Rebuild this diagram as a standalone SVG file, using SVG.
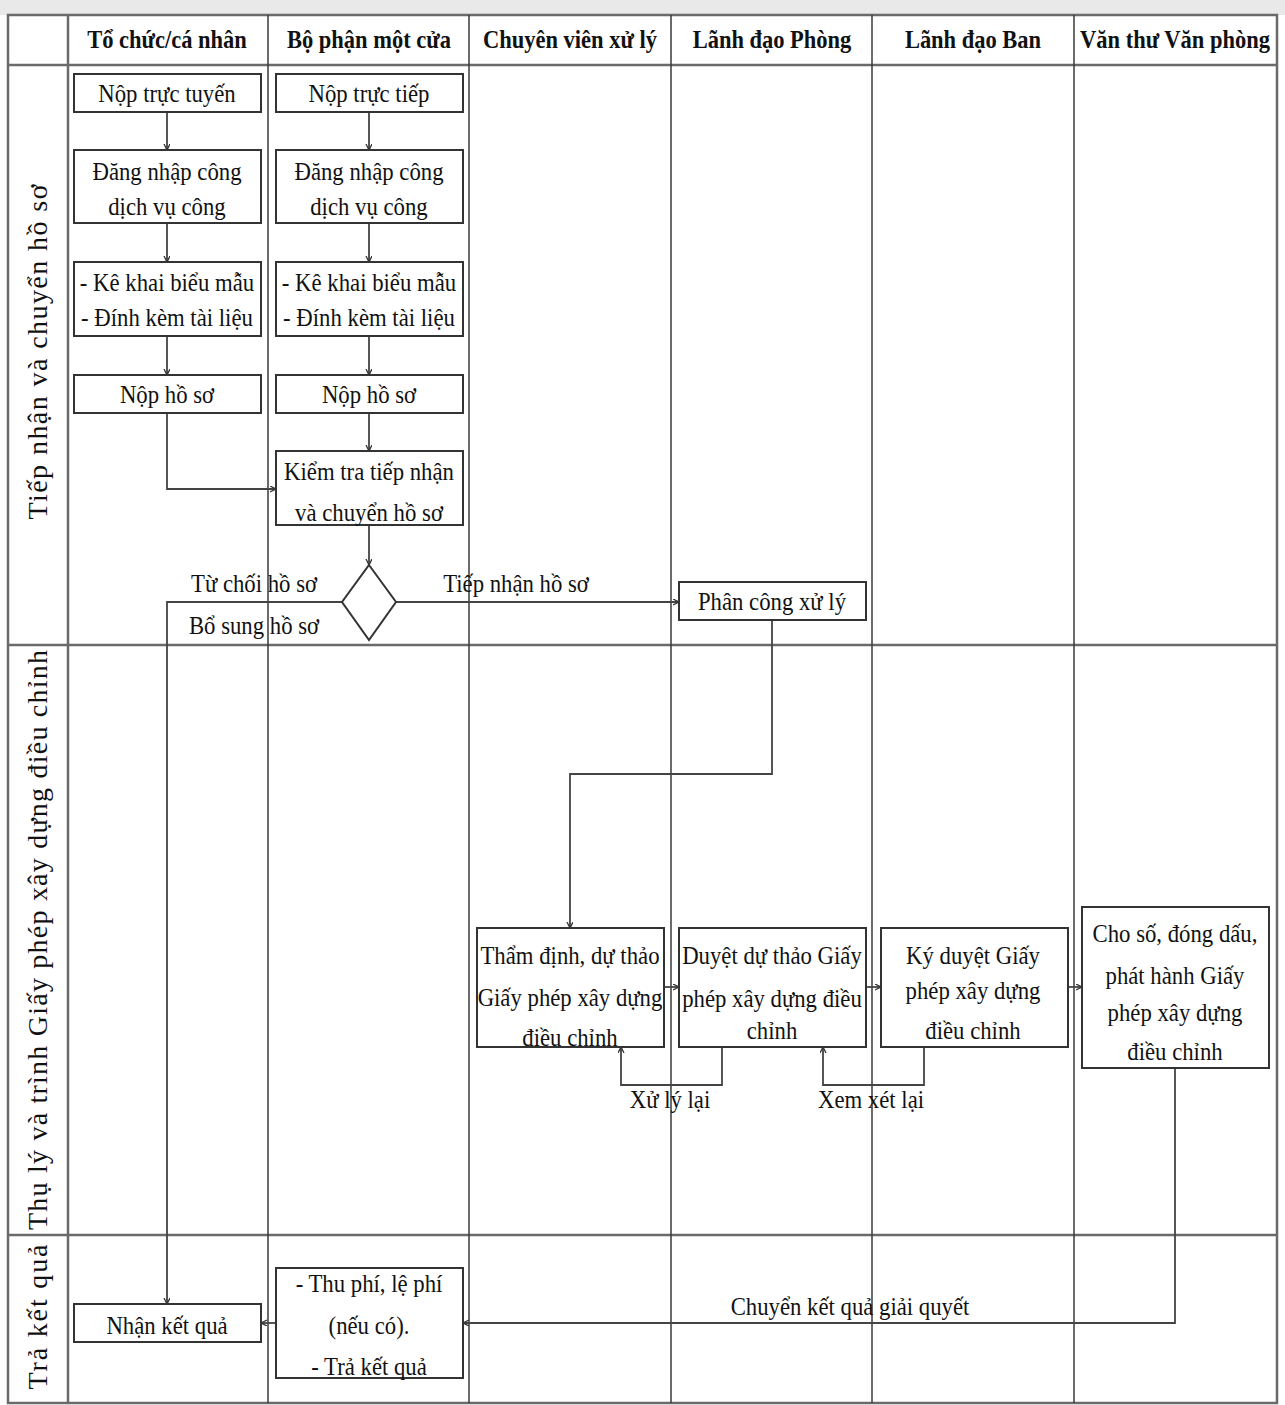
<svg xmlns="http://www.w3.org/2000/svg" width="1285" height="1405" viewBox="0 0 1285 1405">
<style>
.grid{stroke:#6a6a6a;stroke-width:2.5;fill:none}
.col{stroke:#3a3a3a;stroke-width:1.5;fill:none}
.box{fill:#fff;stroke:#333;stroke-width:2}
.con{fill:none;stroke:#444;stroke-width:1.8}
.h{font-family:"Liberation Serif",serif;font-weight:bold;font-size:25px;fill:#111;text-anchor:middle;transform-box:fill-box;transform-origin:center;transform:scaleX(0.9)}
.t{font-family:"Liberation Serif",serif;font-size:25px;fill:#111;text-anchor:middle;transform-box:fill-box;transform-origin:center;transform:scaleX(0.91)}
.r{font-family:"Liberation Serif",serif;font-size:28px;fill:#111;text-anchor:middle}
</style>
<defs>
<marker id="ar" markerWidth="8" markerHeight="8" refX="6" refY="3" orient="auto" markerUnits="userSpaceOnUse">
<path d="M0,0 L6,3 L0,6" fill="none" stroke="#333" stroke-width="1.3"/>
</marker>
</defs>
<rect x="0" y="0" width="1285" height="1405" fill="#fff"/>
<rect x="0" y="0" width="1285" height="15" fill="#e9e9e9"/>
<g id="grid">
<rect x="8" y="15" width="1269" height="1388" class="grid"/>
<line x1="8" y1="65" x2="1277" y2="65" class="grid" stroke-width="3.5"/>
<line x1="8" y1="645" x2="1277" y2="645" class="grid"/>
<line x1="8" y1="1235" x2="1277" y2="1235" class="grid" stroke-width="3.5"/>
<line x1="68" y1="15" x2="68" y2="1403" class="grid"/>
<line x1="268" y1="15" x2="268" y2="1403" class="col"/>
<line x1="469" y1="15" x2="469" y2="1403" class="col"/>
<line x1="671" y1="15" x2="671" y2="1403" class="col"/>
<line x1="872" y1="15" x2="872" y2="1403" class="col"/>
<line x1="1074" y1="15" x2="1074" y2="1403" class="col"/>
</g>
<g id="headers">
<text class="h" x="167" y="48">Tổ chức/cá nhân</text>
<text class="h" x="369" y="48">Bộ phận một cửa</text>
<text class="h" x="570" y="48">Chuyên viên xử lý</text>
<text class="h" x="772" y="48">Lãnh đạo Phòng</text>
<text class="h" x="973" y="48">Lãnh đạo Ban</text>
<text class="h" x="1175" y="48">Văn thư Văn phòng</text>
</g>
<g id="lanes">
<text class="r" transform="translate(47,352) rotate(-90)" textLength="335" lengthAdjust="spacing">Tiếp nhận và chuyển hồ sơ</text>
<text class="r" transform="translate(47,940) rotate(-90)" textLength="580" lengthAdjust="spacing">Thụ lý và trình Giấy phép xây dựng điều chỉnh</text>
<text class="r" transform="translate(47,1317) rotate(-90)" textLength="145" lengthAdjust="spacing">Trả kết quả</text>
</g>
<g id="connectors">
<path class="con" d="M167,112 V150" marker-end="url(#ar)"/>
<path class="con" d="M167,223 V262" marker-end="url(#ar)"/>
<path class="con" d="M167,336 V375" marker-end="url(#ar)"/>
<path class="con" d="M369,112 V150" marker-end="url(#ar)"/>
<path class="con" d="M369,223 V262" marker-end="url(#ar)"/>
<path class="con" d="M369,336 V375" marker-end="url(#ar)"/>
<path class="con" d="M369,413 V451" marker-end="url(#ar)"/>
<path class="con" d="M167,413 V489 H276" marker-end="url(#ar)"/>
<path class="con" d="M369,525 V565" marker-end="url(#ar)"/>
<path class="con" d="M342,602 H167 V1304" marker-end="url(#ar)"/>
<path class="con" d="M396,602 H679" marker-end="url(#ar)"/>
<path class="con" d="M772,620 V774 H570 V928" marker-end="url(#ar)"/>
<path class="con" d="M664,987 H679" marker-end="url(#ar)"/>
<path class="con" d="M866,987 H881" marker-end="url(#ar)"/>
<path class="con" d="M1068,987 H1082" marker-end="url(#ar)"/>
<path class="con" d="M722,1047 V1085 H621 V1047" marker-end="url(#ar)"/>
<path class="con" d="M924,1047 V1085 H823 V1047" marker-end="url(#ar)"/>
<path class="con" d="M1175,1068 V1323 H463" marker-end="url(#ar)"/>
<path class="con" d="M276,1323 H261" marker-end="url(#ar)"/>
<text class="t" x="254" y="592">Từ chối hồ sơ</text>
<text class="t" x="254" y="634">Bổ sung hồ sơ</text>
<text class="t" x="516" y="592">Tiếp nhận hồ sơ</text>
<text class="t" x="670" y="1108">Xử lý lại</text>
<text class="t" x="871" y="1108">Xem xét lại</text>
<text class="t" x="850" y="1315">Chuyển kết quả giải quyết</text>
</g>
<g id="n-noptructuyen"><rect class="box" x="74" y="74" width="187" height="38"/><text class="t" x="167" y="102">Nộp trực tuyến</text></g>
<g id="n-noptructiep"><rect class="box" x="276" y="74" width="187" height="38"/><text class="t" x="369" y="102">Nộp trực tiếp</text></g>
<g id="n-dangnhap1"><rect class="box" x="74" y="150" width="187" height="73"/><text class="t" x="167" y="180">Đăng nhập công</text><text class="t" x="167" y="215">dịch vụ công</text></g>
<g id="n-dangnhap2"><rect class="box" x="276" y="150" width="187" height="73"/><text class="t" x="369" y="180">Đăng nhập công</text><text class="t" x="369" y="215">dịch vụ công</text></g>
<g id="n-kekhai1"><rect class="box" x="74" y="262" width="187" height="74"/><text class="t" x="167" y="291">- Kê khai biểu mẫu</text><text class="t" x="167" y="326">- Đính kèm tài liệu</text></g>
<g id="n-kekhai2"><rect class="box" x="276" y="262" width="187" height="74"/><text class="t" x="369" y="291">- Kê khai biểu mẫu</text><text class="t" x="369" y="326">- Đính kèm tài liệu</text></g>
<g id="n-nophoso1"><rect class="box" x="74" y="375" width="187" height="38"/><text class="t" x="167" y="403">Nộp hồ sơ</text></g>
<g id="n-nophoso2"><rect class="box" x="276" y="375" width="187" height="38"/><text class="t" x="369" y="403">Nộp hồ sơ</text></g>
<g id="n-kiemtra"><rect class="box" x="276" y="451" width="187" height="74"/><text class="t" x="369" y="480">Kiểm tra tiếp nhận</text><text class="t" x="369" y="521">và chuyển hồ sơ</text></g>
<g id="n-decision"><polygon class="box" points="369,565 396,602 369,640 342,602"/></g>
<g id="n-phancong"><rect class="box" x="679" y="582" width="187" height="38"/><text class="t" x="772" y="610">Phân công xử lý</text></g>
<g id="n-thamdinh"><rect class="box" x="477" y="928" width="187" height="119"/><text class="t" x="570" y="964">Thẩm định, dự thảo</text><text class="t" x="570" y="1006">Giấy phép xây dựng</text><text class="t" x="570" y="1046">điều chỉnh</text></g>
<g id="n-duyet"><rect class="box" x="679" y="928" width="187" height="119"/><text class="t" x="772" y="964">Duyệt dự thảo Giấy</text><text class="t" x="772" y="1007">phép xây dựng điều</text><text class="t" x="772" y="1039">chỉnh</text></g>
<g id="n-kyduyet"><rect class="box" x="881" y="928" width="187" height="119"/><text class="t" x="973" y="964">Ký duyệt Giấy</text><text class="t" x="973" y="999">phép xây dựng</text><text class="t" x="973" y="1039">điều chỉnh</text></g>
<g id="n-choso"><rect class="box" x="1082" y="907" width="187" height="161" stroke="#555"/><text class="t" x="1175" y="942">Cho số, đóng dấu,</text><text class="t" x="1175" y="984">phát hành Giấy</text><text class="t" x="1175" y="1021">phép xây dựng</text><text class="t" x="1175" y="1060">điều chỉnh</text></g>
<g id="n-nhanketqua"><rect class="box" x="74" y="1304" width="187" height="38"/><text class="t" x="167" y="1334">Nhận kết quả</text></g>
<g id="n-thuphi"><rect class="box" x="276" y="1268" width="187" height="110" stroke="#555"/><text class="t" x="369" y="1292">- Thu phí, lệ phí</text><text class="t" x="369" y="1334">(nếu có).</text><text class="t" x="369" y="1375">- Trả kết quả</text></g>
</svg>
